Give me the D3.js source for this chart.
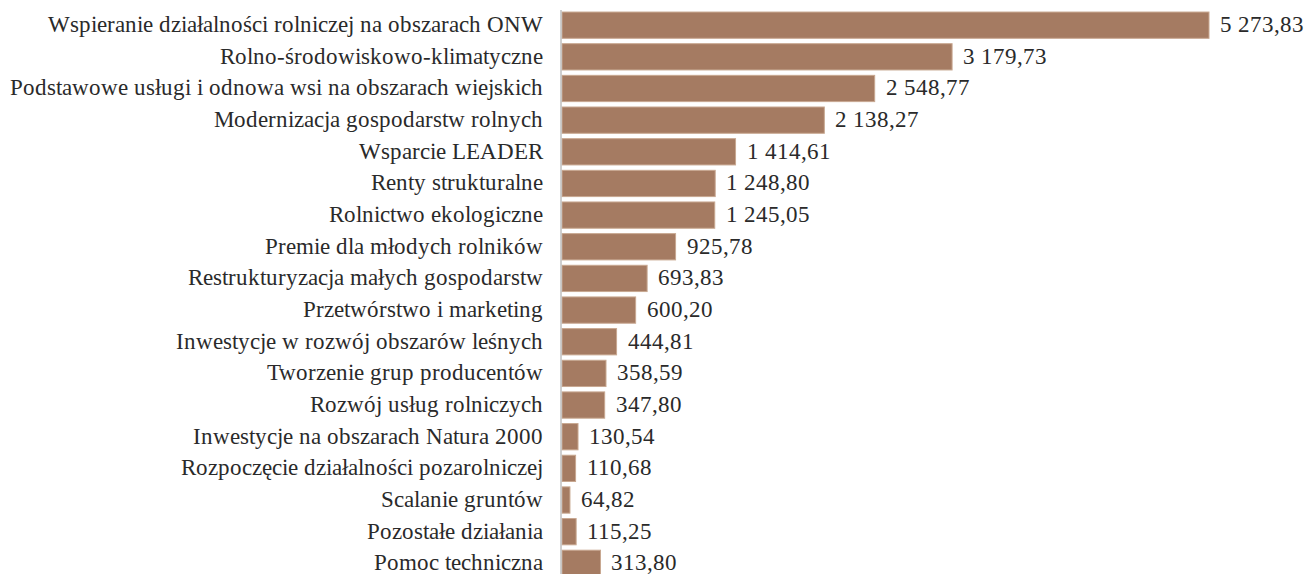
<!DOCTYPE html>
<html>
<head>
<meta charset="utf-8">
<script src="https://cdn.jsdelivr.net/npm/d3@7"></script>
<style>
  @font-face {
    font-family: "ChartSerif";
    src: local("Liberation Serif"), local("LiberationSerif"), local("LiberationSerif-Regular"), local("Tinos"), local("Times New Roman");
  }
  body { margin: 0; background: #fff; }
  svg text { font-family: "ChartSerif", "Liberation Serif", Tinos, "Times New Roman", serif !important; }
</style>
</head>
<body>
<script>
var categories = [
  "Wspieranie działalności rolniczej na obszarach ONW",
  "Rolno-środowiskowo-klimatyczne",
  "Podstawowe usługi i odnowa wsi na obszarach wiejskich",
  "Modernizacja gospodarstw rolnych",
  "Wsparcie LEADER",
  "Renty strukturalne",
  "Rolnictwo ekologiczne",
  "Premie dla młodych rolników",
  "Restrukturyzacja małych gospodarstw",
  "Przetwórstwo i marketing",
  "Inwestycje w rozwój obszarów leśnych",
  "Tworzenie grup producentów",
  "Rozwój usług rolniczych",
  "Inwestycje na obszarach Natura 2000",
  "Rozpoczęcie działalności pozarolniczej",
  "Scalanie gruntów",
  "Pozostałe działania",
  "Pomoc techniczna"
]
var values = [5273.83, 3179.73, 2548.77, 2138.27, 1414.61, 1248.80, 1245.05, 925.78,
  693.83, 600.20, 444.81, 358.59, 347.80, 130.54, 110.68, 64.82, 115.25, 313.80]

var width = 1304, height = 574
var x0 = 561

var svg = d3.select("body").append("svg")
  .attr("width", width)
  .attr("height", height)

var x = d3.scaleLinear().domain([0, 5273.83]).range([x0 + 1, 1209])
var y = d3.scaleBand().domain(categories).range([9.5, 579]).paddingInner(0.17).paddingOuter(0.08)

// formatting like "5 273,83"
var fmt = d3.formatLocale({decimal: ",", thousands: " ", grouping: [3], currency: ["", ""]}).format(",.2f")

svg.selectAll("rect.bar")
  .data(values)
  .enter()
  .append("rect")
  .attr("class", "bar")
  .attr("x", x(0))
  .attr("y", function(d, i) { return y(categories[i]) })
  .attr("width", function(d) { return x(d) - x(0) })
  .attr("height", y.bandwidth())
  .attr("fill", "#a57b62")
  .attr("stroke", "#c8a891")
  .attr("stroke-width", 1)

svg.selectAll("text.val")
  .data(values)
  .enter()
  .append("text")
  .attr("class", "val")
  .attr("x", function(d) { return x(d) + 11 })
  .attr("y", function(d, i) { return y(categories[i]) + y.bandwidth() / 2 + 7 })
  .style("font-size", "23px")
  .style("fill", "#2a2a2a")
  .text(function(d) { return fmt(d) })

// category axis
var axis = svg.append("g")
  .attr("transform", "translate(" + x0 + ",0)")
  .call(d3.axisLeft(y).tickSize(0).tickPadding(18))
  .attr("font-family", null)
  .attr("font-size", null)

axis.select(".domain")
  .attr("d", "M0,10V574")
  .attr("stroke", "#bfbfbf")
  .attr("stroke-width", 1.5)

axis.selectAll("text")
  .attr("dy", null)
  .attr("y", 7)
  .style("font-size", "23px")
  .style("fill", "#2a2a2a")
</script>
</body>
</html>
